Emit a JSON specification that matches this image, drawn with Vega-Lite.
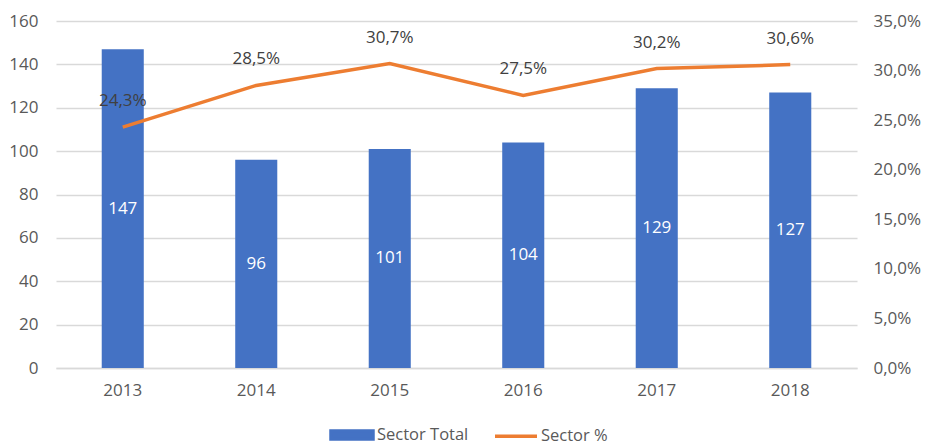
{
  "$schema": "https://vega.github.io/schema/vega-lite/v6.json",
  "width": 801,
  "height": 347,
  "autosize": {"type": "none"},
  "padding": {"left": 56, "top": 21, "right": 71, "bottom": 76},
  "background": "white",
  "config": {
    "locale": {"number": {"decimal": ",", "thousands": ".", "grouping": [3], "currency": ["", " €"]}},
    "font": "Open Sans",
    "view": {"stroke": null},
    "axis": {"labelFont": "Open Sans", "labelFontSize": 17, "labelColor": "#595959", "ticks": false, "domain": false, "title": null, "gridColor": "#D9D9D9", "gridWidth": 1.3}
  },
  "data": {
    "values": [
      {"year": "2013", "total": 147, "pct": 0.243},
      {"year": "2014", "total": 96, "pct": 0.285},
      {"year": "2015", "total": 101, "pct": 0.307},
      {"year": "2016", "total": 104, "pct": 0.275},
      {"year": "2017", "total": 129, "pct": 0.302},
      {"year": "2018", "total": 127, "pct": 0.306}
    ]
  },
  "encoding": {
    "x": {"field": "year", "type": "ordinal", "scale": {"paddingInner": 0.685, "paddingOuter": 0.3425},
      "axis": {"labelAngle": 0, "labelPadding": 14, "grid": false, "domain": true, "domainColor": "#D9D9D9", "domainWidth": 1.3}}
  },
  "layer": [
    {
      "mark": {"type": "bar", "color": "#4472C4"},
      "encoding": {
        "y": {"field": "total", "type": "quantitative", "scale": {"domain": [0, 160], "nice": false},
          "axis": {"orient": "left", "values": [0, 20, 40, 60, 80, 100, 120, 140, 160], "grid": true, "labelPadding": 18}},
        "color": {"datum": "Sector Total", "type": "nominal",
          "scale": {"domain": ["Sector Total", "Sector %"], "range": ["#4472C4", "#ED7D31"]},
          "legend": {"orient": "none", "legendX": 273, "legendY": 391, "direction": "horizontal", "title": null,
            "labelFont": "Open Sans", "labelFontSize": 16.5, "labelColor": "#595959", "labelOffset": 2,
            "columnPadding": 19, "symbolSize": 1764, "padding": 0,
            "encode": {"symbols": {"update": {
              "shape": {"signal": "datum.value === 'Sector Total' ? 'M-1,-0.19H1V0.19H-1Z' : 'M-1,0H1'"},
              "fill": {"signal": "datum.value === 'Sector Total' ? '#4472C4' : 'transparent'"},
              "stroke": {"signal": "datum.value === 'Sector Total' ? 'transparent' : '#ED7D31'"},
              "strokeWidth": {"value": 3.5},
              "opacity": {"value": 1}
            }}}}}
      }
    },
    {
      "mark": {"type": "text", "color": "white", "fontSize": 17, "font": "Open Sans", "baseline": "middle"},
      "encoding": {
        "y": {"field": "total", "type": "quantitative", "scale": {"domain": [0, 320], "nice": false}, "axis": null},
        "text": {"field": "total", "type": "quantitative"}
      }
    },
    {
      "encoding": {
        "y": {"field": "pct", "type": "quantitative", "scale": {"domain": [0, 0.35], "nice": false},
          "axis": {"orient": "right", "values": [0, 0.05, 0.1, 0.15, 0.2, 0.25, 0.3, 0.35], "format": ".1%", "grid": false, "labelPadding": 16}}
      },
      "layer": [
        {"mark": {"type": "line", "color": "#ED7D31", "strokeWidth": 3.5},
         "encoding": {"color": {"datum": "Sector %", "type": "nominal"}}},
        {"mark": {"type": "text", "color": "#404040", "fontSize": 17, "font": "Open Sans", "baseline": "middle", "dy": -26},
         "encoding": {"text": {"field": "pct", "type": "quantitative", "format": ".1%"}}}
      ]
    }
  ],
  "resolve": {"scale": {"y": "independent"}}
}
